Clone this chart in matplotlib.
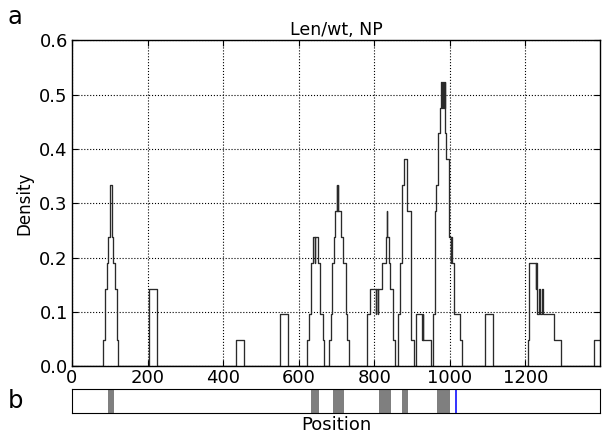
import numpy as np
import matplotlib
matplotlib.use('Agg')
import matplotlib.pyplot as plt

plt.rcParams['font.family'] = ['DejaVu Sans']

# step trace: count of reads covering each breakpoint onward (density = count / 21)
n_total = 21
pos = [0,
       83, 88, 92, 96, 100, 105, 109, 115, 119, 122,
       205, 226,
       433, 456,
       551, 573,
       622, 627, 632, 638, 642, 643, 650, 656, 665, 667,
       680, 686, 689, 693, 695, 701, 702, 703, 704, 711, 717, 724, 728, 733,
       781, 790, 804, 805, 810, 811, 820, 831, 834, 835, 840, 843, 849, 855,
       864, 869, 873, 880, 886, 891, 896, 904,
       910, 927, 928, 930, 951,
       955, 960, 963, 969, 973, 977, 980, 981, 982, 983, 985, 986, 988, 991,
       997, 1003, 1004, 1006, 1011, 1026, 1031,
       1092, 1114,
       1206, 1210, 1227, 1228, 1232, 1237, 1239, 1245, 1247, 1275, 1295,
       1381, 1398]
counts = [0,
          1, 3, 4, 5, 7, 5, 4, 3, 1, 0,
          3, 0,
          1, 0,
          2, 0,
          1, 2, 4, 5, 4, 5, 4, 2, 1, 0,
          1, 2, 4, 5, 6, 7, 6, 7, 6, 5, 4, 2, 1, 0,
          2, 3, 2, 3, 2, 3, 4, 5, 6, 5, 4, 3, 1, 0,
          2, 4, 7, 8, 6, 6, 1, 0,
          2, 1, 2, 1, 0,
          2, 6, 7, 9, 10, 11, 10, 11, 10, 11, 10, 11, 9, 8,
          5, 4, 5, 4, 2, 1, 0,
          2, 0,
          1, 4, 3, 4, 2, 3, 2, 3, 2, 1, 0,
          1, 1]

# conserved regions shown in the lower strip
regions = [(94, 111), (632, 653), (692, 720), (813, 845), (874, 890), (967, 1000)]
marker_pos = 1017
x_max = 1398

density = np.array(counts) / n_total

fig = plt.figure(figsize=(6.05, 4.38), dpi=100)
ax = fig.add_axes([0.119, 0.164, 0.873, 0.744])
ax.step(pos, density, where='post', color='#2a2a2a', lw=0.95)
ax.set_xlim(0, x_max)
ax.set_ylim(0, 0.6)
ax.set_xticks(np.arange(0, 1201, 200))
ax.set_yticks(np.arange(0, 0.61, 0.1))
ax.set_yticklabels(['%.1f' % v for v in np.arange(0, 0.61, 0.1)])
ax.grid(True, color='k', linestyle=':', linewidth=0.8)
ax.tick_params(direction='in', top=True, right=True, labelsize=13, length=4)
ax.tick_params(axis='x', pad=2)
ax.tick_params(axis='y', pad=3)
ax.set_title('Len/wt, NP', fontsize=12.5, pad=4)
ax.set_ylabel('Density', fontsize=12, labelpad=4)
for s in ax.spines.values():
    s.set_linewidth(1.0)

ax2 = fig.add_axes([0.119, 0.057, 0.873, 0.055])
for a, b in regions:
    ax2.axvspan(a, b, color='#7f7f7f', lw=0)
ax2.axvline(marker_pos, color='#1010ff', lw=1.2)
ax2.set_xlim(0, x_max)
ax2.set_ylim(0, 1)
ax2.set_xticks([])
ax2.set_yticks([])
ax2.set_xlabel('Position', fontsize=13, labelpad=2)

fig.text(0.012, 0.962, 'a', fontsize=17.5, va='center')
fig.text(0.012, 0.085, 'b', fontsize=17.5, va='center')

fig.savefig('out.png', dpi=100)
